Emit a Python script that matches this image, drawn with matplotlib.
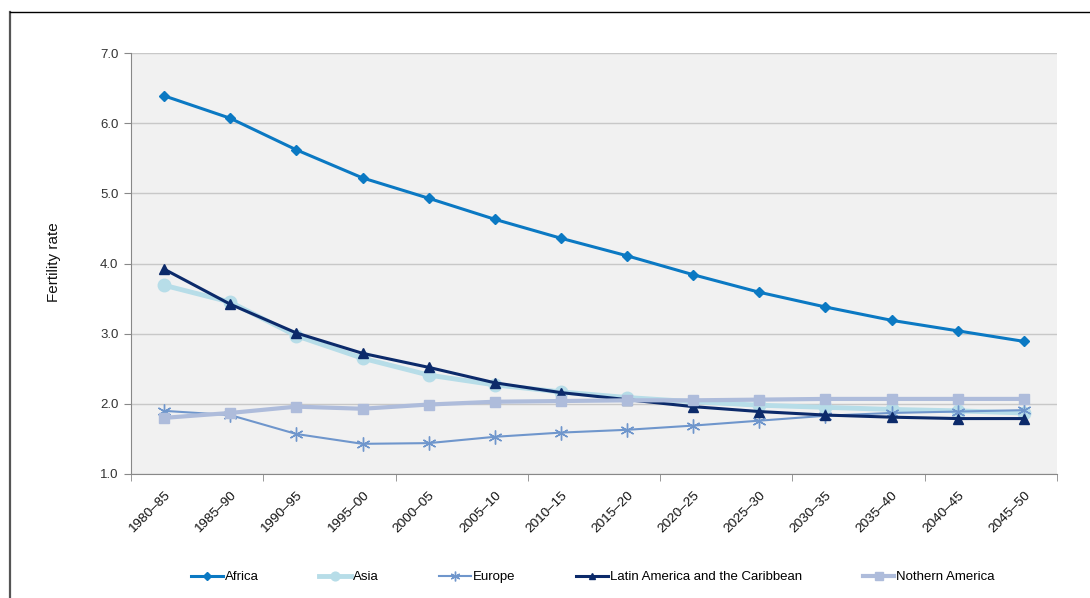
import matplotlib
matplotlib.use("Agg")
import matplotlib.pyplot as plt
from matplotlib.lines import Line2D

# periods on the x axis
periods = ['1980–85', '1985–90', '1990–95', '1995–00', '2000–05', '2005–10', '2010–15',
           '2015–20', '2020–25', '2025–30', '2030–35', '2035–40', '2040–45', '2045–50']

# fertility rates
africa = [6.39, 6.07, 5.62, 5.22, 4.93, 4.63, 4.36, 4.11, 3.84, 3.59, 3.38, 3.19, 3.04, 2.89]
asia = [3.69, 3.45, 2.97, 2.65, 2.41, 2.27, 2.17, 2.09, 2.03, 1.98, 1.95, 1.92, 1.90, 1.87]
europe = [1.90, 1.84, 1.57, 1.43, 1.44, 1.53, 1.59, 1.63, 1.69, 1.76, 1.83, 1.87, 1.89, 1.91]
latin_america = [3.92, 3.42, 3.01, 2.72, 2.52, 2.30, 2.16, 2.06, 1.96, 1.89, 1.84, 1.81, 1.79, 1.79]
northern_america = [1.80, 1.87, 1.96, 1.93, 1.99, 2.03, 2.04, 2.05, 2.05, 2.06, 2.07, 2.07, 2.07, 2.07]

plt.rcParams['font.family'] = ['Liberation Sans', 'DejaVu Sans']

fig = plt.figure(figsize=(10.9, 5.98), dpi=100)
ax = fig.add_axes([131 / 1090, 1 - 474 / 598, (1057 - 131) / 1090, (474 - 53) / 598])
ax.set_facecolor('#f1f1f1')

x = list(range(len(periods)))
ax.plot(x, africa, color='#0b79c3', lw=2.2, marker='D', ms=5.5, label='Africa')
ax.plot(x, asia, color='#b7dde8', lw=3.5, marker='o', ms=9, label='Asia')
ax.plot(x, europe, color='#6f96cc', lw=1.5, marker=(6, 2, 0), ms=10, mew=1.0, label='Europe')
ax.plot(x, latin_america, color='#0c2a6a', lw=2.2, marker='^', ms=7, label='Latin America and the Caribbean')
ax.plot(x, northern_america, color='#aebcdb', lw=3, marker='s', ms=7.5, label='Nothern America')

ax.set_xlim(-0.5, len(periods) - 0.5)
ax.set_ylim(1.0, 7.0)
ax.set_yticks([1, 2, 3, 4, 5, 6, 7])
ax.set_yticklabels([f'{v:.1f}' for v in range(1, 8)])
ax.grid(axis='y', color='#c8c8c8', lw=1)
ax.set_axisbelow(True)

ax.set_xticks(x)
ax.set_xticklabels(periods, rotation=45, ha='right', rotation_mode='anchor')
ax.set_xticks([i - 0.5 for i in range(0, len(periods) + 1, 2)], minor=True)
ax.tick_params(axis='x', which='major', length=0, pad=11, labelsize=9.7, labelcolor='#111111')
ax.tick_params(axis='x', which='minor', length=5, color='#888888')
ax.tick_params(axis='y', length=5, color='#888888', labelsize=9.5, labelcolor='#333333', pad=4)

for side in ['top', 'right']:
    ax.spines[side].set_visible(False)
for side in ['left', 'bottom']:
    ax.spines[side].set_color('#888888')

fig.text(54 / 1090, 1 - 262 / 598, 'Fertility rate', rotation=90, ha='center', va='center',
         fontsize=11, color='#111111')

fig.legend(loc='center', bbox_to_anchor=(593 / 1090, 1 - 577 / 598), ncol=5, frameon=False,
           fontsize=9.5, handlelength=2.4, handletextpad=0.15, columnspacing=4.6,
           markerscale=0.7)

# outer frame lines
fig.add_artist(Line2D([10 / 1090, 10 / 1090], [0, 1 - 12 / 598], color='#555555', lw=1.6))
fig.add_artist(Line2D([10 / 1090, 1], [1 - 12 / 598, 1 - 12 / 598], color='#000000', lw=1))

fig.savefig('out.png', dpi=100)
